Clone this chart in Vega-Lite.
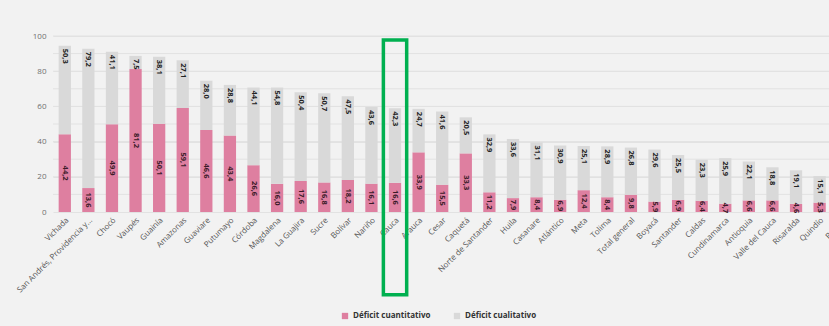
{
  "$schema": "https://vega.github.io/schema/vega-lite/v6.json",
  "autosize": {"type": "none"},
  "width": 776,
  "height": 176,
  "padding": {"left": 53, "top": 36, "right": 0, "bottom": 114},
  "background": "#f2f2f2",
  "config": {
    "view": {"stroke": null},
    "font": "Open Sans",
    "locale": {"number": {"decimal": ",", "thousands": ".", "grouping": [3], "currency": ["$", ""]}},
    "axis": {"labelFont": "Open Sans", "labelColor": "#6f6f6f", "labelFontSize": 8}
  },
  "datasets": {
    "d": [
      {"dep": "Vichada", "cuant": 44.2, "cual": 50.3},
      {"dep": "San Andrés, Providencia y...", "cuant": 13.6, "cual": 79.2},
      {"dep": "Chocó", "cuant": 49.9, "cual": 41.1},
      {"dep": "Vaupés", "cuant": 81.2, "cual": 7.5},
      {"dep": "Guainía", "cuant": 50.1, "cual": 38.1},
      {"dep": "Amazonas", "cuant": 59.1, "cual": 27.1},
      {"dep": "Guaviare", "cuant": 46.6, "cual": 28.0},
      {"dep": "Putumayo", "cuant": 43.4, "cual": 28.8},
      {"dep": "Córdoba", "cuant": 26.6, "cual": 44.1},
      {"dep": "Magdalena", "cuant": 16.0, "cual": 54.8},
      {"dep": "La Guajira", "cuant": 17.6, "cual": 50.4},
      {"dep": "Sucre", "cuant": 16.8, "cual": 50.7},
      {"dep": "Bolívar", "cuant": 18.2, "cual": 47.5},
      {"dep": "Nariño", "cuant": 16.1, "cual": 43.6},
      {"dep": "Cauca", "cuant": 16.6, "cual": 42.3},
      {"dep": "Arauca", "cuant": 33.9, "cual": 24.7},
      {"dep": "Cesar", "cuant": 15.5, "cual": 41.6},
      {"dep": "Caquetá", "cuant": 33.3, "cual": 20.5},
      {"dep": "Norte de Santander", "cuant": 11.2, "cual": 32.9},
      {"dep": "Huila", "cuant": 7.9, "cual": 33.6},
      {"dep": "Casanare", "cuant": 8.4, "cual": 31.1},
      {"dep": "Atlántico", "cuant": 6.9, "cual": 30.9},
      {"dep": "Meta", "cuant": 12.4, "cual": 25.1},
      {"dep": "Tolima", "cuant": 8.4, "cual": 28.9},
      {"dep": "Total general", "cuant": 9.8, "cual": 26.8},
      {"dep": "Boyacá", "cuant": 5.9, "cual": 29.6},
      {"dep": "Santander", "cuant": 6.9, "cual": 25.5},
      {"dep": "Caldas", "cuant": 6.4, "cual": 23.3},
      {"dep": "Cundinamarca", "cuant": 4.7, "cual": 25.9},
      {"dep": "Antioquia", "cuant": 6.6, "cual": 22.1},
      {"dep": "Valle del Cauca", "cuant": 6.6, "cual": 18.8},
      {"dep": "Risaralda", "cuant": 4.6, "cual": 19.1},
      {"dep": "Quindío", "cuant": 5.3, "cual": 15.1},
      {"dep": "Bogotá", "cuant": 4.9, "cual": 14.0}
    ],
    "grid": [{"val": 10}, {"val": 20}, {"val": 30}, {"val": 40}, {"val": 50}, {"val": 60}, {"val": 70}, {"val": 80}, {"val": 90}, {"val": 100}],
    "box": [{"dep": "Cauca", "val": 97.7, "bottom": -47}]
  },
  "data": {"name": "d"},
  "encoding": {
    "y": {
      "field": "val", "type": "quantitative", "title": null,
      "scale": {"domain": [0, 100], "nice": false},
      "axis": {"values": [0, 10, 20, 30, 40, 50, 60, 70, 80, 90, 100], "tickCount": 10, "labelOverlap": false, "domain": false, "ticks": false, "gridColor": "#e2e2e2", "labelPadding": 7}
    }
  },
  "layer": [
    {
      "data": {"name": "grid"},
      "mark": {"type": "rule", "color": "#e2e2e2", "strokeWidth": 1},
      "encoding": {}
    },
    {
      "transform": [{"fold": ["cuant", "cual"], "as": ["serie", "val"]}],
      "mark": {"type": "bar"},
      "encoding": {
        "x": {
          "field": "dep", "type": "nominal", "title": null,
          "scale": {
            "domain": ["Vichada", "San Andrés, Providencia y...", "Chocó", "Vaupés", "Guainía", "Amazonas", "Guaviare", "Putumayo", "Córdoba", "Magdalena", "La Guajira", "Sucre", "Bolívar", "Nariño", "Cauca", "Arauca", "Cesar", "Caquetá", "Norte de Santander", "Huila", "Casanare", "Atlántico", "Meta", "Tolima", "Total general", "Boyacá", "Santander", "Caldas", "Cundinamarca", "Antioquia", "Valle del Cauca", "Risaralda", "Quindío", "Bogotá"],
            "range": [0, 802], "paddingInner": 0.48, "paddingOuter": 0.24
          },
          "axis": {"labelAngle": -45, "domain": false, "ticks": false, "labelPadding": 4, "labelColor": "#555555", "labelOverlap": false}
        },
        "color": {
          "field": "serie", "type": "nominal",
          "scale": {"domain": ["cuant", "cual"], "range": ["#de7fa0", "#d9d9d9"]},
          "legend": {
            "orient": "none", "legendX": 288, "legendY": 276, "direction": "horizontal", "title": null,
            "symbolType": "square", "symbolSize": 40, "symbolStrokeWidth": 0,
            "labelFontWeight": "bold", "labelFontSize": 8, "labelColor": "#333333",
            "labelExpr": "datum.label == 'cuant' ? 'Déficit cuantitativo' : 'Déficit cualitativo'",
            "columnPadding": 22
          }
        },
        "order": {"field": "serie", "sort": "descending"}
      }
    },
    {
      "transform": [{"calculate": "datum.cuant / 2", "as": "val"}],
      "mark": {"type": "text", "angle": 90, "align": "center", "baseline": "middle", "fontSize": 7.5, "fontWeight": "bold", "color": "#3a1a28"},
      "encoding": {
        "x": {"field": "dep", "type": "nominal"},
        "text": {"field": "cuant", "type": "quantitative", "format": ".1f"}
      }
    },
    {
      "transform": [{"calculate": "datum.cuant + datum.cual", "as": "val"}],
      "mark": {"type": "text", "angle": 90, "align": "left", "baseline": "middle", "dx": 3, "fontSize": 7.5, "fontWeight": "bold", "color": "#222222"},
      "encoding": {
        "x": {"field": "dep", "type": "nominal"},
        "text": {"field": "cual", "type": "quantitative", "format": ".1f"}
      }
    },
    {
      "data": {"name": "box"},
      "mark": {"type": "bar", "width": {"band": 1.9}, "fill": null, "fillOpacity": 0, "stroke": "#00b050", "strokeWidth": 3.5, "clip": false},
      "encoding": {
        "x": {"field": "dep", "type": "nominal"},
        "y2": {"field": "bottom"}
      }
    }
  ]
}
